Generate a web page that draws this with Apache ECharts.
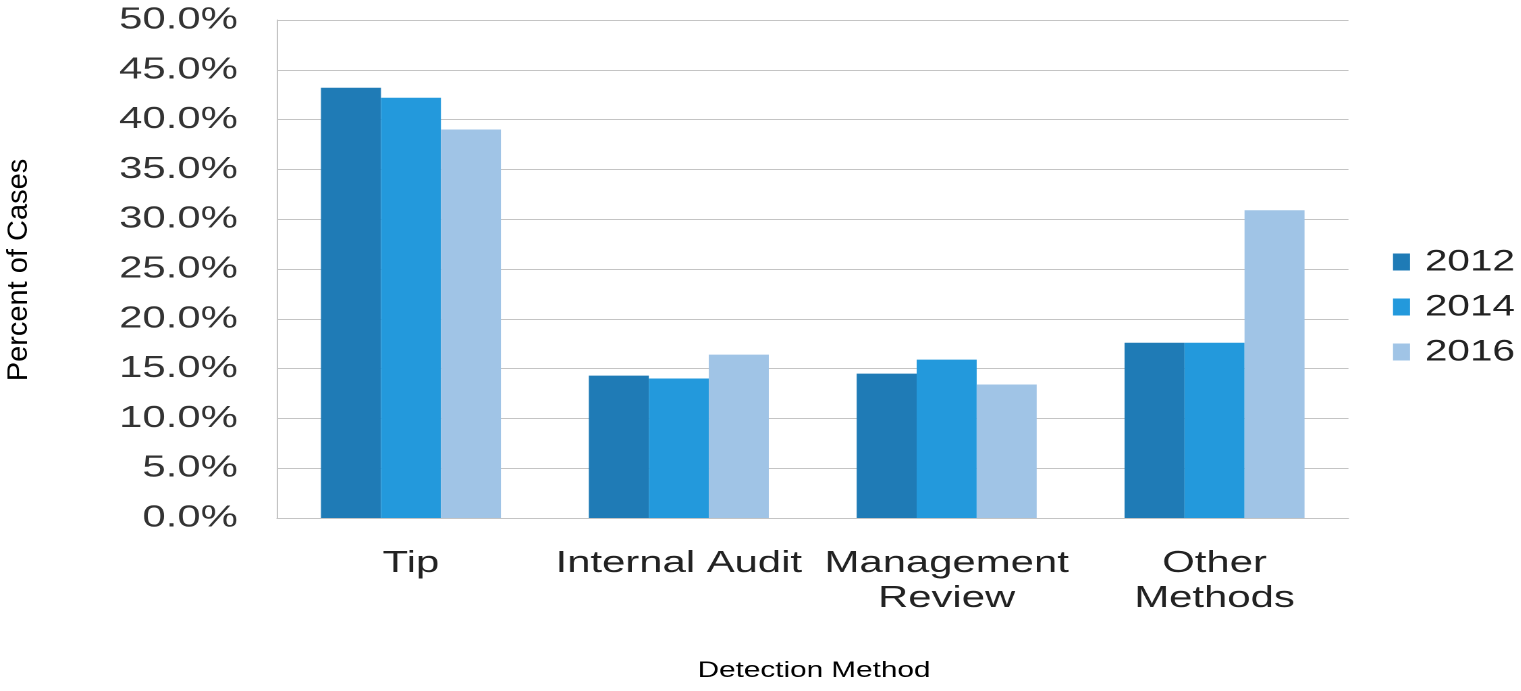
<!DOCTYPE html>
<html>
<head>
<meta charset="utf-8">
<script src="https://cdn.jsdelivr.net/npm/echarts@6/dist/echarts.min.js"></script>
<style>
html,body{margin:0;padding:0;background:#fff;overflow:hidden}
#wrap{width:1521px;height:691px;position:relative;overflow:hidden}
#c{width:1126.67px;height:691px;transform:scaleX(1.35);transform-origin:0 0;position:absolute;left:0;top:0}
</style>
</head>
<body>
<div id="wrap"><div id="c"></div></div>
<script>
const categories = ['Tip', 'Internal Audit', 'Management\nReview', 'Other\nMethods'];
const seriesNames = ['2012', '2014', '2016'];
const v2012 = [43.2, 14.3, 14.5, 17.6];
const v2014 = [42.2, 14.0, 15.9, 17.6];
const v2016 = [39.0, 16.4, 13.4, 30.9];
const yTicks = {min: 0, max: 50, step: 5};
const colors = ['#1f7bb6', '#2399dc', '#a0c4e6'];
const font = "'Liberation Sans', Arial, sans-serif";
const S = 1.35; // horizontal stretch of the original picture

const chart = echarts.init(document.getElementById('c'), null, {renderer: 'canvas', devicePixelRatio: 2});
const mk = (name, data, i) => ({
  name, type: 'bar', data, barWidth: 60 / S, barGap: '0%',
  itemStyle: {color: colors[i]}, emphasis: {disabled: true}
});
chart.setOption({
  animation: false,
  grid: {left: 277 / S, right: 173 / S, top: 20, bottom: 173, containLabel: false},
  legend: {
    orient: 'vertical', left: 1393 / S, top: 247, itemGap: 15, padding: 0,
    itemWidth: 17 / S, itemHeight: 17, icon: 'rect',
    textStyle: {fontFamily: font, fontSize: 30, color: '#222', padding: [0, 0, 0, 6]},
    data: seriesNames
  },
  xAxis: {
    type: 'category', data: categories,
    axisLine: {lineStyle: {color: '#c4c4c4', width: 1}},
    axisTick: {show: false},
    axisLabel: {fontFamily: font, fontSize: 31, color: '#222', margin: 28, lineHeight: 35, interval: 0}
  },
  yAxis: {
    type: 'value', min: yTicks.min, max: yTicks.max, interval: yTicks.step,
    axisLine: {show: true, lineStyle: {color: '#c4c4c4'}},
    axisTick: {show: false},
    splitLine: {lineStyle: {color: '#c4c4c4', width: 1}},
    axisLabel: {fontFamily: font, fontSize: 31, color: '#333', margin: 29,
      formatter: v => v.toFixed(1) + '%'}
  },
  graphic: [
    {type: 'text', x: 19 / S, y: 270, rotation: Math.PI / 2, scaleY: 1 / S,
      style: {text: 'Percent of Cases', fontFamily: font, fontSize: 29, fill: '#000',
        align: 'center', verticalAlign: 'middle'}},
    {type: 'text', x: 814 / S, y: 671,
      style: {text: 'Detection Method', fontFamily: font, fontSize: 22, fill: '#000',
        align: 'center', verticalAlign: 'middle'}}
  ],
  series: [mk(seriesNames[0], v2012, 0), mk(seriesNames[1], v2014, 1), mk(seriesNames[2], v2016, 2)]
});
</script>
</body>
</html>
